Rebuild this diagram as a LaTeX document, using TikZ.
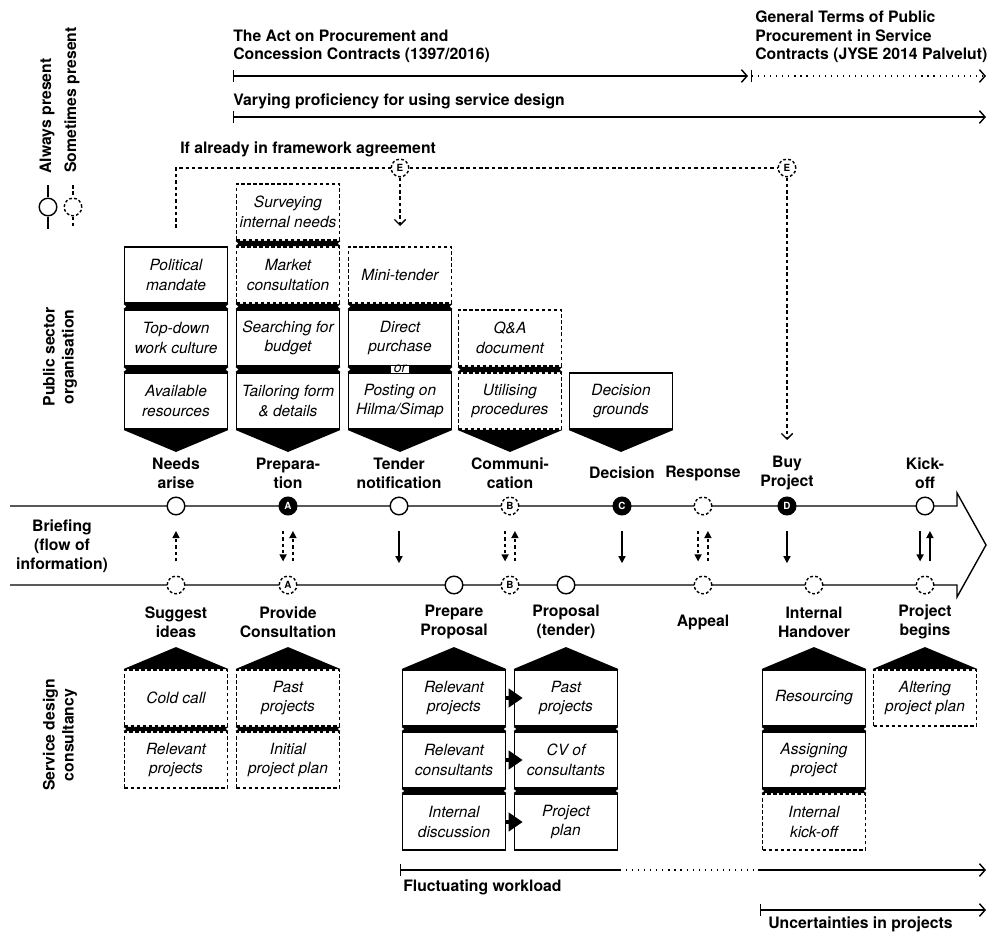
\documentclass[tikz,border=0pt]{standalone}
\usepackage{fontspec}
\setmainfont{TeX Gyre Heros}
\usetikzlibrary{arrows.meta,calc}

\tikzset{
  task/.style={draw, line width=1.35pt, fill=white, minimum width=2.575cm, minimum height=1.4cm,
    inner sep=1pt, align=center, font=\fontsize{11}{14}\selectfont\itshape},
  maybe/.style={task, dash pattern=on 2.5pt off 1.8pt},
  stage/.style={align=center, font=\fontsize{11.2}{13.5}\selectfont\bfseries},
  always/.style={circle, draw, line width=1pt, fill=white, minimum size=0.44cm, inner sep=0pt,
    font=\fontsize{7}{7}\selectfont\bfseries},
  sometimes/.style={always, dash pattern=on 2pt off 1.5pt},
  fixed/.style={always, fill=black, text=white},
  opt/.style={dash pattern=on 2.5pt off 2pt},
  dots/.style={dash pattern=on 0.8pt off 3.5pt},
  span/.style={line width=1pt, {Bar[width=8pt]}-{Straight Barb[length=4pt,width=9pt]}},
  info/.style={line width=1pt, -{Triangle[length=5pt,width=5pt]}},
}

\begin{document}
\begin{tikzpicture}[x=0.025cm, y=-0.025cm]
    \useasboundingbox (0,0) rectangle (990,932);

    % key
    \node[stage, rotate=90] (keya) at (47,116) {Always present};
    \node[stage, rotate=90] (keys) at (72,100) {Sometimes present};
    \node[always] (ka) at (48,207) {};
    \node[sometimes] (ks) at (73,207) {};
    \coordinate (ka0) at (48,185); \coordinate (ka1) at (48,229);
    \coordinate (ks0) at (73,185); \coordinate (ks1) at (73,229);
    \draw[line width=1pt] (ka0) -- (ka) (ka) -- (ka1);
    \draw[line width=1pt, opt] (ks0) -- (ks) (ks) -- (ks1);

    % laws and proficiency
    \node[stage, align=left, anchor=base west, inner sep=0] (act) at (233,60)
        {The Act on Procurement and\\Concession Contracts (1397/2016)};
    \node[stage, align=left, anchor=base west, inner sep=0] (jyse) at (755,60)
        {General Terms of Public\\Procurement in Service\\Contracts (JYSE 2014 Palvelut)};
    \coordinate (act0) at (233,76); \coordinate (act1) at (748,76);
    \coordinate (jyse0) at (751,76); \coordinate (jyse1) at (986,76);
    \draw[span] (act0) -- (act1);
    \draw[span, dots] (jyse0) -- (jyse1);

    \node[stage, anchor=base west, inner sep=0] (vary) at (233,106)
        {Varying proficiency for using service design};
    \coordinate (vary0) at (233,117); \coordinate (vary1) at (986,117);
    \draw[span] (vary0) -- (vary1);

    % framework agreement
    \node[stage, anchor=base west, inner sep=0] (frame) at (180,153) {If already in framework agreement};
    \node[sometimes] (e1) at (400,168) {E};
    \node[sometimes] (e2) at (787,168) {E};
    \coordinate (fa0) at (176,228); \coordinate (fa1) at (176,168);
    \coordinate (e1end) at (400,226); \coordinate (e2end) at (787,440);
    \draw[line width=1pt, opt] (fa0) -- (fa1) -- (e1) -- (e2);
    \draw[line width=1pt, opt, -{Straight Barb[length=4pt,width=8pt]}] (e1) -- (e1end);
    \draw[line width=1pt, opt, -{Straight Barb[length=4pt,width=8pt]}] (e2) -- (e2end);

    % public sector organisation
    \node[stage, rotate=90] (pso) at (60,357) {Public sector\\organisation};

    \node[task]  (pm)   at (176,275) {Political\\mandate};
    \node[task]  (tdc)  at (176,338) {Top-down\\work culture};
    \node[task]  (avr)  at (176,401) {Available\\resources};
    \node[maybe] (sin)  at (288,212) {Surveying\\internal needs};
    \node[maybe] (mkc)  at (288,275) {Market\\consultation};
    \node[task]  (sfb)  at (288,338) {Searching for\\budget};
    \node[task]  (tfd)  at (288,401) {Tailoring form\\\& details};
    \node[maybe] (mini) at (400,275) {Mini-tender};
    \node[task]  (dp)   at (400,338) {Direct\\purchase};
    \node[task]  (ph)   at (400,401) {Posting on\\Hilma/Simap};
    \node[maybe] (qa)   at (510,338) {Q\&A\\document};
    \node[maybe] (up)   at (510,401) {Utilising\\procedures};
    \node[task]  (dg)   at (621,401) {Decision\\grounds};

    \foreach \a/\b in {pm/tdc, tdc/avr, sin/mkc, mkc/sfb, sfb/tfd, mini/dp, dp/ph, qa/up}
        \fill (\a.south west) -- (\a.south east) -- ($(\a.south east)!.5!(\b.north east)+(-3,0)$)
            -- (\b.north east) -- (\b.north west) -- ($(\a.south west)!.5!(\b.north west)+(3,0)$) -- cycle;
    \foreach \b in {avr, tfd, ph, up, dg}
        \fill (\b.south west) -- (\b.south east) -- ($(\b.south)+(0,22)$) -- cycle;
    \node[fill=white, inner xsep=2pt, inner ysep=0.3pt, text height=4.6pt, text depth=0pt,
        font=\fontsize{10}{10}\selectfont\itshape] (or) at ($(dp.south)!.5!(ph.north)$) {or};

    % timeline
    \draw[line width=1pt, line join=miter] (10,506) -- (957,506) -- (957,493) -- (986,545)
        -- (957,597) -- (957,585) -- (10,585);

    \node[always]    (needs)  at (176,506) {};
    \node[fixed]     (prep)   at (288,506) {A};
    \node[always]    (tender) at (399,506) {};
    \node[sometimes] (comm)   at (510,506) {B};
    \node[fixed]     (dec)    at (622,506) {C};
    \node[sometimes] (resp)   at (703,506) {};
    \node[fixed]     (buy)    at (787,506) {D};
    \node[always]    (kick)   at (925,506) {};

    \node[sometimes] (sug)  at (176,585) {};
    \node[sometimes] (prov) at (288,585) {A};
    \node[always]    (prpp) at (454,585) {};
    \node[sometimes] (comb) at (510,585) {B};
    \node[always]    (prop) at (566,585) {};
    \node[sometimes] (app)  at (703,585) {};
    \node[sometimes] (hand) at (814,585) {};
    \node[sometimes] (beg)  at (925,585) {};

    \node[stage] (needsl)  at (176,473) {Needs\\arise};
    \node[stage] (prepl)   at (288,473) {Prepara-\\tion};
    \node[stage] (tenderl) at (399,473) {Tender\\notification};
    \node[stage] (comml)   at (510,473) {Communi-\\cation};
    \node[stage] (decl)    at (622,473) {Decision};
    \node[stage] (respl)   at (703,473) {Response};
    \node[stage] (buyl)    at (787,473) {Buy\\Project};
    \node[stage] (kickl)   at (925,473) {Kick-\\off};

    \node[stage] (sugl)  at (176,622) {Suggest\\ideas};
    \node[stage] (provl) at (288,622) {Provide\\Consultation};
    \node[stage] (prppl) at (454,622) {Prepare\\Proposal};
    \node[stage] (propl) at (566,622) {Proposal\\(tender)};
    \node[stage] (appl)  at (703,622) {Appeal};
    \node[stage] (handl) at (814,622) {Internal\\Handover};
    \node[stage] (begl)  at (925,622) {Project\\begins};

    \node[stage] (brief) at (62,546) {Briefing\\(flow of\\information)};

    % briefing
    \draw[info, opt, shorten <=10pt, shorten >=11pt] (sug) -- (needs);
    \foreach \a/\b in {prep/prov, comm/comb, resp/app} {
        \draw[info, opt, shorten <=11pt, shorten >=10pt] ([xshift=-3.5pt]\a.south) -- ([xshift=-3.5pt]\b.north);
        \draw[info, opt, shorten <=10pt, shorten >=11pt] ([xshift=3.5pt]\b.north) -- ([xshift=3.5pt]\a.south);
    }
    \foreach \a in {tender, dec, buy}
        \draw[info, shorten <=11pt, shorten >=15.5pt] (\a) -- (\a |- sug.center);
    \draw[info, shorten <=11pt, shorten >=10pt] ([xshift=-3.5pt]kick.south) -- ([xshift=-3.5pt]beg.north);
    \draw[info, shorten <=10pt, shorten >=11pt] ([xshift=3.5pt]beg.north) -- ([xshift=3.5pt]kick.south);

    % service design consultancy
    \node[stage, rotate=90] (sdc) at (60,735) {Service design\\consultancy};

    \node[maybe] (cc)  at (176,698) {Cold call};
    \node[maybe] (rp)  at (176,760) {Relevant\\projects};
    \node[maybe] (pp)  at (288,698) {Past\\projects};
    \node[maybe] (ipp) at (288,760) {Initial\\project plan};
    \node[task]  (rpj) at (454,698) {Relevant\\projects};
    \node[task]  (rcs) at (454,760) {Relevant\\consultants};
    \node[task]  (ids) at (454,822) {Internal\\discussion};
    \node[task]  (ppj) at (566,698) {Past\\projects};
    \node[task]  (cvc) at (566,760) {CV of\\consultants};
    \node[task]  (ppl) at (566,822) {Project\\plan};
    \node[task]  (res) at (814,698) {Resourcing};
    \node[task]  (asp) at (814,760) {Assigning\\project};
    \node[maybe] (iko) at (814,822) {Internal\\kick-off};
    \node[maybe] (apl) at (925,698) {Altering\\project plan};

    \foreach \a/\b in {cc/rp, pp/ipp, rpj/rcs, rcs/ids, ppj/cvc, cvc/ppl, res/asp, asp/iko}
        \fill (\a.south west) -- (\a.south east) -- ($(\a.south east)!.5!(\b.north east)+(-3,0)$)
            -- (\b.north east) -- (\b.north west) -- ($(\a.south west)!.5!(\b.north west)+(3,0)$) -- cycle;
    \foreach \b in {cc, pp, rpj, ppj, res, apl}
        \fill (\b.north west) -- (\b.north east) -- ($(\b.north)+(0,-22)$) -- cycle;
    \foreach \a/\b in {rpj/ppj, rcs/cvc, ids/ppl}
        \draw[line width=3.5pt, -{Triangle[length=10pt,width=13pt]}] (\a.east) -- ([xshift=6.5pt]\b.west);

    % workload and uncertainties
    \coordinate (fw0) at (400,870); \coordinate (fw1) at (620,870);
    \coordinate (fw2) at (758,870); \coordinate (fw3) at (986,870);
    \draw[line width=1pt, {Bar[width=8pt]}-] (fw0) -- (fw1);
    \draw[line width=1pt, dots] (fw1) -- (fw2);
    \draw[line width=1pt, -{Straight Barb[length=4pt,width=9pt]}] (fw2) -- (fw3);
    \node[stage, anchor=base west, inner sep=0] (fw) at (403,891) {Fluctuating workload};

    \coordinate (un0) at (760,910); \coordinate (un1) at (986,910);
    \draw[span] (un0) -- (un1);
    \node[stage, anchor=base west, inner sep=0] (un) at (768,928) {Uncertainties in projects};

\end{tikzpicture}
\end{document}
